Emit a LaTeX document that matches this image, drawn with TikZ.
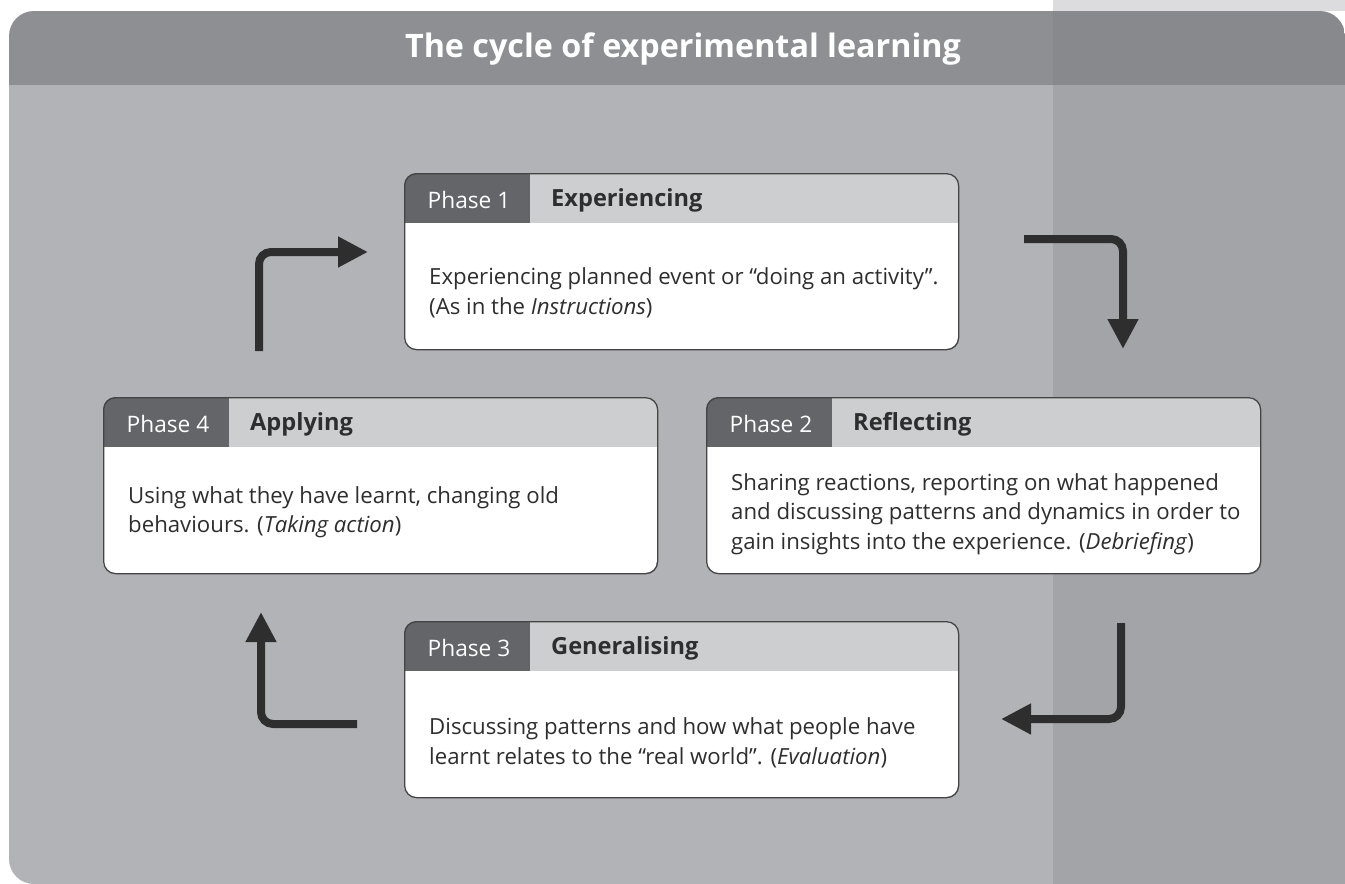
\documentclass[tikz,border=0pt]{standalone}
\usepackage{fontspec}
\setmainfont{Open Sans}
\usetikzlibrary{arrows.meta}
\definecolor{hdrL}{HTML}{8E8F93}
\definecolor{hdrR}{HTML}{88898D}
\definecolor{bodyL}{HTML}{B2B3B7}
\definecolor{bodyR}{HTML}{A3A4A8}
\definecolor{strip}{HTML}{DCDCDE}
\definecolor{tabdark}{HTML}{646569}
\definecolor{hdrlight}{HTML}{CDCED0}
\definecolor{ink}{HTML}{2E2E2E}
\definecolor{frame}{HTML}{444444}
\tikzset{
  boxframe/.style={draw=frame, line width=1.3pt, rounded corners=12pt, minimum width=554pt, minimum height=176pt, anchor=north west, inner sep=0pt},
  phaselbl/.style={text=white, font=\fontsize{22.7}{26}\selectfont, inner sep=0pt},
  phasetitle/.style={text=ink, font=\fontsize{23.6}{26}\selectfont\bfseries, anchor=west, inner sep=0pt},
  bodytext/.style={text=ink, font=\fontsize{22.2}{29.5}\selectfont, anchor=west, align=left, inner sep=0pt},
  cyclearrow/.style={draw=ink, line width=8pt, rounded corners=12pt, -{Triangle[width=29pt,length=30pt]}},
}
\newcommand{\phasebox}[7]{%
  % #1 name, #2 x, #3 y, #4 phase label, #5 title, #6 body, #7 body centre y
  \begin{scope}
    \clip[rounded corners=12pt] (#2,#3) rectangle ++(554,176);
    \fill[white] (#2,#3) rectangle ++(554,176);
    \fill[hdrlight] (#2,#3) rectangle ++(554,50);
    \fill[tabdark] (#2,#3) rectangle ++(126,50);
  \end{scope}
  \node[boxframe] (#1) at (#2,#3) {};
  \node[phaselbl] (#1-lbl) at (#2+65,#3+27) {#4};
  \node[phasetitle] (#1-ttl) at (#2+147,#3+27) {#5};
  \node[bodytext] (#1-body) at (#2+25,#7) {#6};
}
\begin{document}
\begin{tikzpicture}[x=1pt,y=-1pt]
\useasboundingbox (0,0) rectangle (1345,884);
\fill[white] (0,0) rectangle (1345,884);
\fill[strip] (1053,0) rectangle (1345,11);
\begin{scope}
  \clip[rounded corners=25pt] (1380,884) -- (9,884) -- (9,11) -- (1345,11) -- (1345,920) -- (1380,920);
  \fill[bodyL] (0,85) rectangle (1053,884);
  \fill[bodyR] (1053,85) rectangle (1345,884);
  \fill[hdrL] (0,11) rectangle (1053,85);
  \fill[hdrR] (1053,11) rectangle (1345,85);
\end{scope}
\node[text=white, font=\fontsize{32.3}{38}\selectfont\bfseries, inner sep=0pt] (title) at (683,49) {The cycle of experimental learning};

\phasebox{p1}{404}{173}{Phase 1}{Experiencing}{Experiencing planned event or “doing an activity”.\\(As in the \textit{Instructions})}{293}
\phasebox{p2}{706}{397}{Phase 2}{Reflecting}{Sharing reactions, reporting on what happened\\and discussing patterns and dynamics in order to\\gain insights into the experience. (\textit{Debriefing})}{514}
\phasebox{p4}{103}{397}{Phase 4}{Applying}{Using what they have learnt, changing old\\behaviours. (\textit{Taking action})}{512}
\phasebox{p3}{404}{621}{Phase 3}{Generalising}{Discussing patterns and how what people have\\learnt relates to the “real world”. (\textit{Evaluation})}{743}

\coordinate (a1s) at (259,351); \coordinate (a1c) at (259,252); \coordinate (a1e) at (368,252);
\coordinate (a2s) at (1024,239); \coordinate (a2c) at (1123,239); \coordinate (a2e) at (1123,349);
\coordinate (a3s) at (1121,623); \coordinate (a3c) at (1121,719); \coordinate (a3e) at (1001,719);
\coordinate (a4s) at (357,724); \coordinate (a4c) at (261,724); \coordinate (a4e) at (261,612);
\draw[cyclearrow] (a1s) -- (a1c) -- (a1e);
\draw[cyclearrow] (a2s) -- (a2c) -- (a2e);
\draw[cyclearrow] (a3s) -- (a3c) -- (a3e);
\draw[cyclearrow] (a4s) -- (a4c) -- (a4e);
\end{tikzpicture}
\end{document}
